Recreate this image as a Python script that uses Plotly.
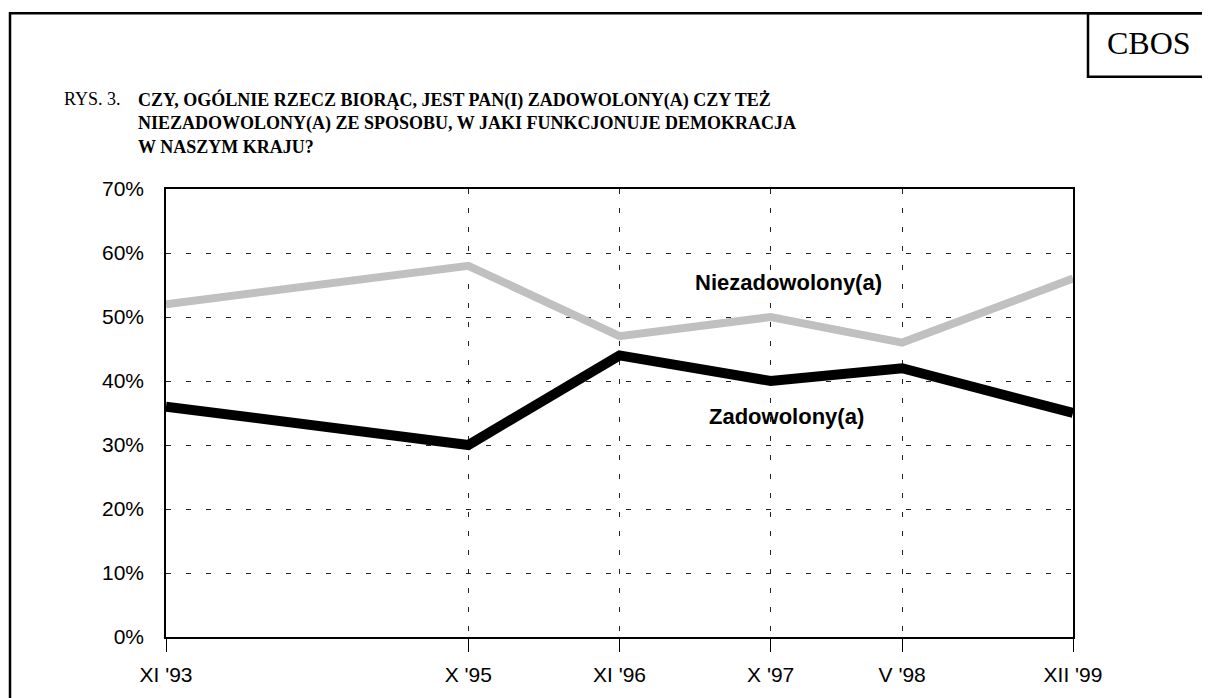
import plotly.graph_objects as go

# ---- data ----
periods = ["XI '93", "X '95", "XI '96", "X '97", "V '98", "XII '99"]
period_pos = [0, 2, 3, 4, 4.87, 6]   # relative spacing of survey dates on the axis
niezadowolony = [0.52, 0.58, 0.47, 0.50, 0.46, 0.56]
zadowolony = [0.36, 0.30, 0.44, 0.40, 0.42, 0.35]
y_ticks = [0, 0.1, 0.2, 0.3, 0.4, 0.5, 0.6, 0.7]

OFF = 8  # page body margin
W, H = 1210 - OFF, 698 - OFF
L, R, T, B = 166 - OFF, 1073 - OFF, 189 - OFF, 640 - OFF

def px(x):
    return (x - OFF - L) / (R - L)

def py(y):
    return (B - (y - OFF)) / (B - T)

fig = go.Figure()
fig.add_trace(go.Scatter(x=period_pos, y=niezadowolony, mode="lines",
                         line=dict(color="#c0c0c0", width=8), name="Niezadowolony(a)"))
fig.add_trace(go.Scatter(x=period_pos, y=zadowolony, mode="lines",
                         line=dict(color="#000000", width=10), name="Zadowolony(a)"))

serif = "Liberation Serif, Times New Roman, serif"
sans = "Liberation Sans, Arial, sans-serif"

annotations = [
    dict(text="RYS. 3.", xref="paper", yref="paper", x=px(62), y=py(98),
         xanchor="left", yanchor="middle", showarrow=False,
         font=dict(family=serif, size=18, color="black")),
    dict(text="<b>CZY, OGÓLNIE RZECZ BIORĄC, JEST PAN(I) ZADOWOLONY(A) CZY TEŻ<br>"
              "NIEZADOWOLONY(A) ZE SPOSOBU, W JAKI FUNKCJONUJE DEMOKRACJA<br>"
              "W NASZYM KRAJU?</b>",
         xref="paper", yref="paper", x=px(136), y=py(86),
         xanchor="left", yanchor="top", align="left", showarrow=False,
         font=dict(family=serif, size=18, color="black")),
    dict(text="CBOS", xref="paper", yref="paper", x=px(1149), y=py(42),
         xanchor="center", yanchor="middle", showarrow=False,
         font=dict(family=serif, size=32, color="black")),
    dict(text="<b>Niezadowolony(a)</b>", x=4.115, y=0.554, xref="x", yref="y",
         showarrow=False, font=dict(family=sans, size=22, color="black")),
    dict(text="<b>Zadowolony(a)</b>", x=4.108, y=0.345, xref="x", yref="y",
         showarrow=False, font=dict(family=sans, size=22, color="black")),
]

shapes = [
    # outer frame
    dict(type="rect", xref="paper", yref="paper", x0=px(10), x1=px(1230),
         y0=py(720), y1=py(12), line=dict(color="black", width=2.5), layer="below"),
    # CBOS box
    dict(type="rect", xref="paper", yref="paper", x0=px(1088), x1=px(1230),
         y0=py(76), y1=py(12), line=dict(color="black", width=2.5), layer="below"),
]

fig.update_layout(
    width=W, height=H,
    margin=dict(l=L, r=W - R, t=T, b=H - B),
    paper_bgcolor="white", plot_bgcolor="white",
    showlegend=False,
    annotations=annotations, shapes=shapes,
    xaxis=dict(range=[0, 6], tickvals=period_pos, ticktext=periods,
               showgrid=True, gridcolor="#222", gridwidth=1, griddash="5px,14px",
               showline=True, linecolor="black", linewidth=1.5, mirror=True,
               ticks="outside", ticklen=13, tickcolor="black", tickwidth=1,
               ticklabelstandoff=5,
               zeroline=False, tickfont=dict(family=sans, size=21, color="black")),
    yaxis=dict(range=[0, 0.7], tickvals=y_ticks, tickformat=".0%",
               showgrid=True, gridcolor="#222", gridwidth=1, griddash="5px,15px",
               showline=True, linecolor="black", linewidth=1.5, mirror=True,
               ticks="", zeroline=False, ticklabelstandoff=16,
               tickfont=dict(family=sans, size=21, color="black")),
)

fig.write_html("out.html")
